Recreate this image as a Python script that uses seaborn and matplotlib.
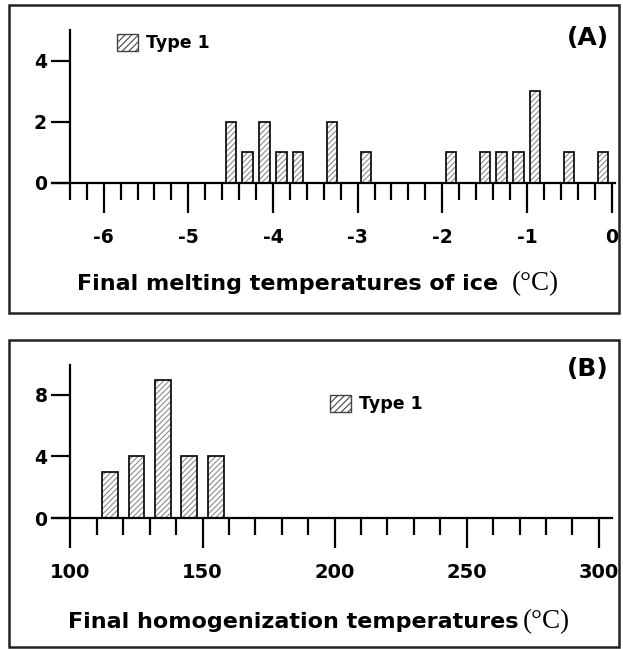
import numpy as np
import pandas as pd
import seaborn as sns
import matplotlib.pyplot as plt
from matplotlib.patches import Patch, Rectangle
from matplotlib.ticker import FixedLocator

# ---- data ----
melt_bins = [-4.5, -4.3, -4.1, -3.9, -3.7, -3.3, -2.9, -1.9, -1.5, -1.3, -1.1, -0.9, -0.5, -0.1]
melt_counts = [2, 1, 2, 1, 1, 2, 1, 1, 1, 1, 1, 3, 1, 1]
homog_bins = [115, 125, 135, 145, 155]
homog_counts = [3, 4, 9, 4, 4]
series_label = "Type 1"
melt_xticks = [-6, -5, -4, -3, -2, -1, 0]
melt_yticks = [0, 2, 4]
homog_xticks = [100, 150, 200, 250, 300]
homog_yticks = [0, 4, 8]

sns.set_theme(style="white")
plt.rcParams["font.family"] = ["DejaVu Sans"]
plt.rcParams["font.weight"] = "bold"
plt.rcParams["axes.unicode_minus"] = False
plt.rcParams["hatch.linewidth"] = 0.8
for k in ["text.color", "xtick.color", "ytick.color", "xtick.labelcolor",
          "ytick.labelcolor", "axes.labelcolor"]:
    plt.rcParams[k] = "black"

W, H = 623, 649
fig = plt.figure(figsize=(6.23, 6.49), dpi=100)


def frac(x0, y0, x1, y1):
    return [x0 / W, 1 - y1 / H, (x1 - x0) / W, (y1 - y0) / H]


def panel(rect, bins, counts, xlim, ylim, yaxis_x, xmajor, xminor, yticks,
          label_pad, xlabsize):
    ax = fig.add_axes(rect)
    df = pd.DataFrame({"t": bins, "n": counts})
    sns.barplot(data=df, x="t", y="n", native_scale=True, width=0.6,
                color="white", edgecolor="#8c8c8c", hatch="//////",
                linewidth=0, errorbar=None, ax=ax)
    sns.barplot(data=df, x="t", y="n", native_scale=True, width=0.6,
                fill=False, edgecolor="black", linewidth=1.2,
                errorbar=None, ax=ax)
    ax.set_xlim(*xlim)
    ax.set_ylim(*ylim)
    ax.set_facecolor("none")
    for s in ["top", "right"]:
        ax.spines[s].set_visible(False)
    ax.spines["left"].set_position(("data", yaxis_x))
    ax.spines["left"].set_bounds(0, ylim[1])
    for s in ["left", "bottom"]:
        ax.spines[s].set_linewidth(1.6)
        ax.spines[s].set_color("black")
    ax.xaxis.set_major_locator(FixedLocator(xmajor))
    ax.xaxis.set_minor_locator(FixedLocator(xminor))
    ax.set_yticks(yticks)
    ax.tick_params(axis="x", which="major", direction="out", length=21.5,
                   width=1.6, color="black", labelcolor="black",
                   labelsize=xlabsize, pad=label_pad, bottom=True)
    ax.tick_params(axis="x", which="minor", direction="out", length=12,
                   width=1.6, color="black", bottom=True)
    ax.tick_params(axis="y", which="major", direction="out", length=13.5,
                   width=1.6, color="black", labelcolor="black",
                   labelsize=13.5, pad=3, left=True)
    ax.set_xlabel("")
    ax.set_ylabel("")
    for lab in ax.get_xticklabels() + ax.get_yticklabels():
        lab.set_fontweight("bold")
    return ax


axA = panel(frac(52, 30, 615, 183), melt_bins, melt_counts,
            (-6.61, 0.04), (0, 5.0), -6.4, melt_xticks,
            list(np.round(np.arange(-6.4, 0.01, 0.2), 2)), melt_yticks,
            11, 13.5)
axB = panel(frac(52, 365, 612, 518), homog_bins, homog_counts,
            (93, 305), (0, 9.95), 100, homog_xticks,
            list(range(100, 301, 10)), homog_yticks, 11, 14)

handle = Patch(facecolor="white", edgecolor="#444444", hatch="/////",
               linewidth=1.0)
for ax, (lx, ly) in [(axA, (117, 34)), (axB, (330, 395))]:
    ax.legend([handle], [series_label], loc="upper left",
              bbox_to_anchor=(lx / W, 1 - ly / H),
              bbox_transform=fig.transFigure, frameon=False, borderpad=0,
              borderaxespad=0, handlelength=1.2, handleheight=1.1,
              handletextpad=0.45, prop={"size": 12.5, "weight": "bold"})

fig.text(609 / W, 1 - 38 / H, "(A)", ha="right", va="center", fontsize=18,
         fontweight="bold")
fig.text(609 / W, 1 - 369 / H, "(B)", ha="right", va="center", fontsize=18,
         fontweight="bold")

fig.text(498 / W, 1 - 284 / H, "Final melting temperatures of ice",
         ha="right", va="center", fontsize=16, fontweight="bold")
fig.text(512 / W, 1 - 284 / H, "(°C)", ha="left", va="center", fontsize=19.5,
         family=["Liberation Serif", "DejaVu Serif"], fontweight="normal")
fig.text(519 / W, 1 - 622 / H, "Final homogenization temperatures",
         ha="right", va="center", fontsize=16, fontweight="bold")
fig.text(523 / W, 1 - 622 / H, "(°C)", ha="left", va="center", fontsize=19.5,
         family=["Liberation Serif", "DejaVu Serif"], fontweight="normal")

for (x0, y0, x1, y1) in [(9, 5, 619, 313), (9, 340, 619, 647)]:
    fig.patches.append(Rectangle((x0 / W, 1 - y1 / H), (x1 - x0) / W,
                                 (y1 - y0) / H, transform=fig.transFigure,
                                 fill=False, edgecolor="#222222",
                                 linewidth=1.8))

fig.savefig("out.png", dpi=100)
